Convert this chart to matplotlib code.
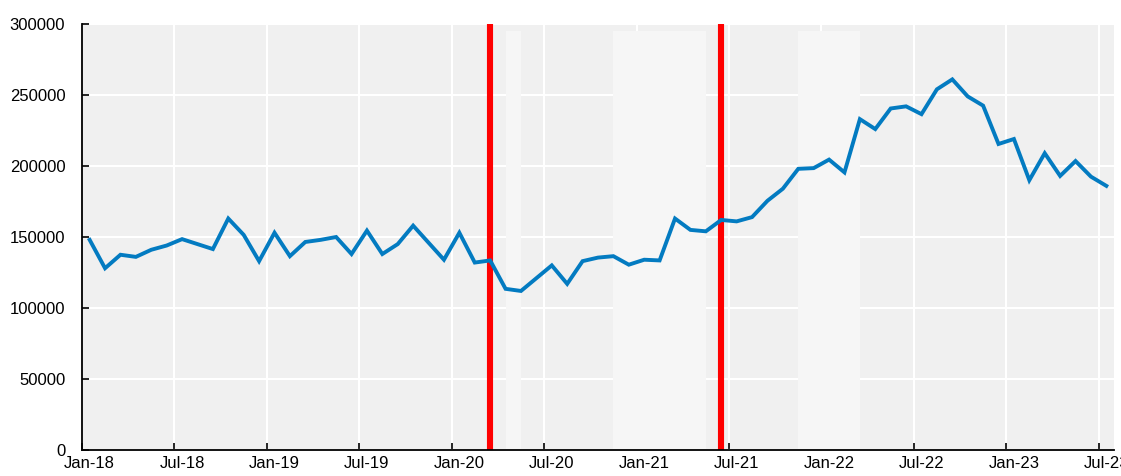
import matplotlib
matplotlib.use("Agg")
import matplotlib.pyplot as plt
import pandas as pd

plt.rcParams['font.family'] = ['Liberation Sans', 'DejaVu Sans']

months = [d.strftime('%b-%y') for d in pd.date_range('2018-01-01', periods=67, freq='MS')]
values = [148000, 128000, 137500, 136000, 141000, 144000, 148500, 145000, 141500, 163000,
          151500, 133000, 153000, 136500, 146500, 148000, 150000, 138000, 154500, 138000,
          145000, 158000, 146000, 134000, 153000, 132000, 133500, 113500, 112000, 121000,
          130000, 117000, 133000, 135500, 136500, 130500, 134000, 133500, 163000, 155000,
          154000, 162000, 161000, 164000, 175500, 184000, 198000, 198500, 204500, 195500,
          233000, 226000, 240500, 242000, 236500, 254000, 261000, 249000, 242500, 215500,
          219000, 190000, 209000, 193000, 203500, 192500, 186000]
tick_labels = ['Jan-18', 'Jul-18', 'Jan-19', 'Jul-19', 'Jan-20', 'Jul-20', 'Jan-21',
               'Jul-21', 'Jan-22', 'Jul-22', 'Jan-23', 'Jul-23']
band_periods = [('Apr-20', 'May-20'), ('Nov-20', 'May-21'), ('Nov-21', 'Mar-22')]
band_height = 295000
red_lines = ['Mar-20', 'Jun-21']

fig = plt.figure(figsize=(11.21, 4.76), dpi=100)
ax = fig.add_axes([0.0731, 0.0546, 0.9207, 0.895])
ax.set_facecolor('#f0f0f0')

x = list(range(len(months)))
idx = {m: i for i, m in enumerate(months)}

for a, b in band_periods:
    ax.fill_between([idx[a], idx[b]], 0, band_height, color='#f6f6f6', lw=0, zorder=1.5)

for m in red_lines:
    ax.axvline(idx[m], color='#ff0000', lw=4.4, zorder=2)

ax.plot(x, values, color='#037bc1', lw=2.8, zorder=3, solid_joinstyle='miter')

ax.set_xlim(-0.5, len(months) - 0.5)
ax.set_ylim(0, 300000)
ax.set_yticks(range(0, 300001, 50000))
ax.set_yticklabels([str(v) for v in range(0, 300001, 50000)])

tick_pos = [idx[t] for t in tick_labels]
ax.set_xticks([p - 0.5 for p in tick_pos])
ax.set_xticklabels([])
ax.set_xticks(tick_pos, minor=True)
ax.set_xticklabels(tick_labels, minor=True)
ax.tick_params(axis='x', which='minor', length=0, pad=4, labelsize=12)
ax.tick_params(axis='x', which='major', direction='in', length=5, width=1.2, color='#000000')
ax.tick_params(axis='y', direction='in', length=5, width=1.2, pad=12, labelsize=12)

ax.grid(True, which='major', color='white', lw=1.5, zorder=1)
ax.set_axisbelow(True)

for s in ['top', 'right']:
    ax.spines[s].set_visible(False)
for s in ['left', 'bottom']:
    ax.spines[s].set_color('#000000')
    ax.spines[s].set_linewidth(1.3)
    ax.spines[s].set_zorder(4)

fig.savefig('out.png', dpi=100)
